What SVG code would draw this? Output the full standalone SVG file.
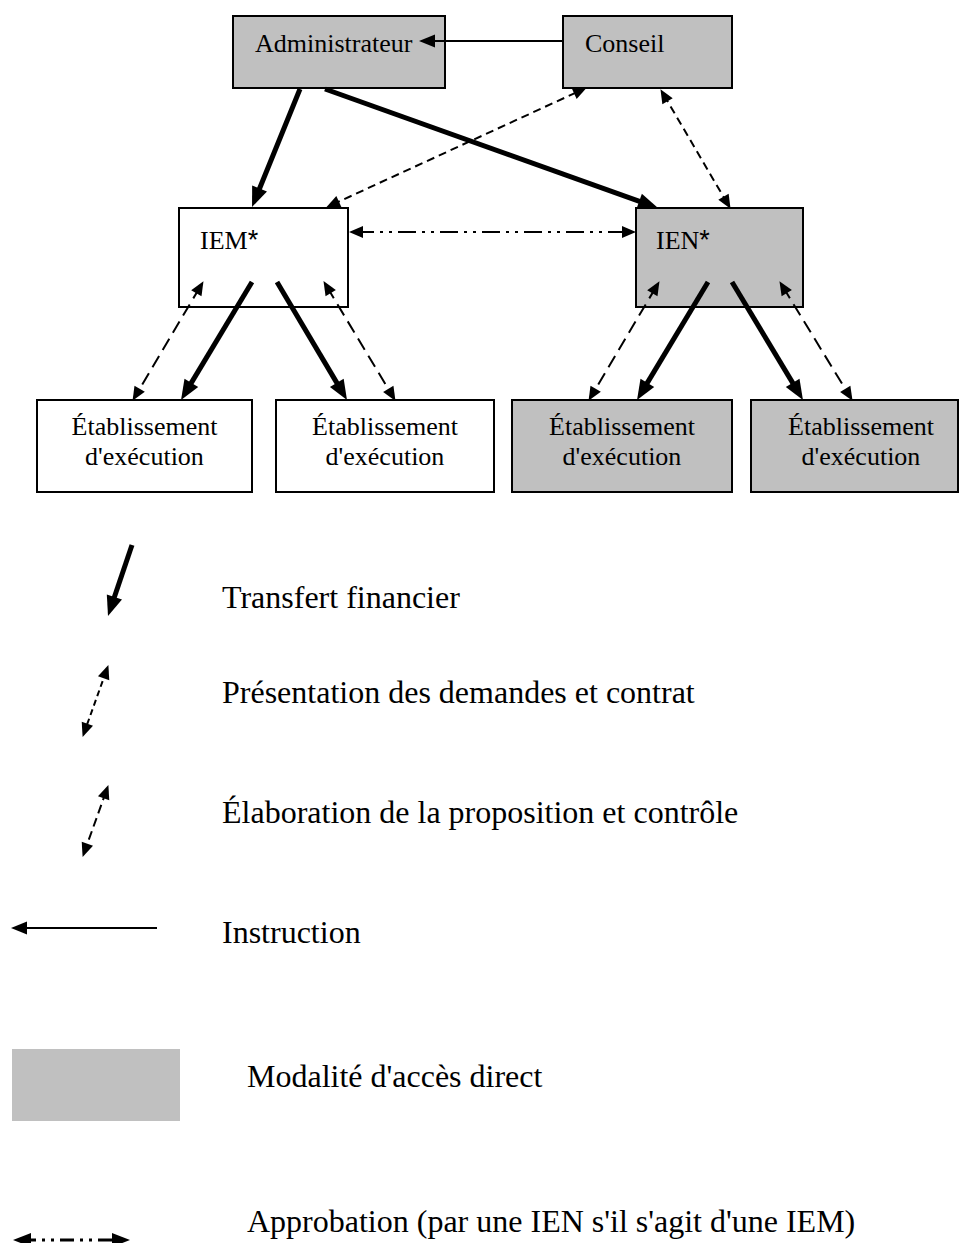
<svg xmlns="http://www.w3.org/2000/svg" width="959" height="1243" viewBox="0 0 959 1243">
<style>
.box{stroke:#000;stroke-width:2}
.gray{fill:#c0c0c0}
.white{fill:#fff}
.nt{font-size:26px;fill:#000}
.lt{font-size:32px;fill:#000}
.thick{stroke:#000;stroke-width:5;fill:none;marker-end:url(#hThick)}
.thin{stroke:#000;stroke-width:2;fill:none;marker-end:url(#hThin)}
.dshort{stroke:#000;stroke-width:2;fill:none;stroke-dasharray:8 5;marker-start:url(#hDash);marker-end:url(#hDash)}
.dlong{stroke:#000;stroke-width:2;fill:none;stroke-dasharray:13 7;marker-start:url(#hDash);marker-end:url(#hDash)}
.ddot{stroke:#000;stroke-width:2;fill:none;stroke-dasharray:18 6 3 6 3 6;marker-start:url(#hDash);marker-end:url(#hDash)}
</style>
<defs>
<marker id="hThick" markerUnits="userSpaceOnUse" markerWidth="20" markerHeight="16" refX="10" refY="8" orient="auto" overflow="visible">
<path d="M0,0 L20,8 L0,16 z" fill="#000"/>
</marker>
<marker id="hDash" markerUnits="userSpaceOnUse" markerWidth="14" markerHeight="12" refX="7" refY="6" orient="auto-start-reverse" overflow="visible">
<path d="M0,0 L14,6 L0,12 z" fill="#000"/>
</marker>
<marker id="hBig" markerUnits="userSpaceOnUse" markerWidth="18" markerHeight="14" refX="9" refY="7" orient="auto-start-reverse" overflow="visible">
<path d="M0,0 L18,7 L0,14 z" fill="#000"/>
</marker>
<marker id="hThin" markerUnits="userSpaceOnUse" markerWidth="16" markerHeight="13" refX="7" refY="6.5" orient="auto" overflow="visible">
<path d="M0,0 L16,6.5 L0,13 z" fill="#000"/>
</marker>
</defs>

<g font-family="Liberation Serif, Times New Roman, serif">
<g id="node-administrateur">
<rect class="box gray" x="233" y="16" width="212" height="72"/>
<text class="nt" font-family="Liberation Serif, serif" x="255" y="52">Administrateur</text>
</g>
<g id="node-conseil">
<rect class="box gray" x="563" y="16" width="169" height="72"/>
<text class="nt" font-family="Liberation Serif, serif" x="585" y="52">Conseil</text>
</g>
<g id="node-iem">
<rect class="box white" x="179" y="208" width="169" height="99"/>
<text class="nt" font-family="Liberation Serif, serif" x="200" y="249">IEM<tspan font-family="Liberation Sans, sans-serif" font-size="27">*</tspan></text>
</g>
<g id="node-ien">
<rect class="box gray" x="636" y="208" width="167" height="99"/>
<text class="nt" font-family="Liberation Serif, serif" x="656" y="249">IEN<tspan font-family="Liberation Sans, sans-serif" font-size="27">*</tspan></text>
</g>
<g id="node-etab1">
<rect class="box white" x="37" y="400" width="215" height="92"/>
<text class="nt" font-family="Liberation Serif, serif" x="144.5" y="435" text-anchor="middle">Établissement</text>
<text class="nt" font-family="Liberation Serif, serif" x="144.5" y="465" text-anchor="middle">d'exécution</text>
</g>
<g id="node-etab2">
<rect class="box white" x="276" y="400" width="218" height="92"/>
<text class="nt" font-family="Liberation Serif, serif" x="385" y="435" text-anchor="middle">Établissement</text>
<text class="nt" font-family="Liberation Serif, serif" x="385" y="465" text-anchor="middle">d'exécution</text>
</g>
<g id="node-etab3">
<rect class="box gray" x="512" y="400" width="220" height="92"/>
<text class="nt" font-family="Liberation Serif, serif" x="622" y="435" text-anchor="middle">Établissement</text>
<text class="nt" font-family="Liberation Serif, serif" x="622" y="465" text-anchor="middle">d'exécution</text>
</g>
<g id="node-etab4">
<rect class="box gray" x="751" y="400" width="207" height="92"/>
<text class="nt" font-family="Liberation Serif, serif" x="861" y="435" text-anchor="middle">Établissement</text>
<text class="nt" font-family="Liberation Serif, serif" x="861" y="465" text-anchor="middle">d'exécution</text>
</g>

<g id="connectors">
<line class="thin" x1="563" y1="41" x2="428" y2="41"/>
<line class="thick" x1="300" y1="89" x2="255.8" y2="197.7"/>
<line class="thick" x1="325" y1="89" x2="648.6" y2="204.6"/>
<line class="dshort" x1="332.5" y1="204.5" x2="580.5" y2="90.5"/>
<line class="dshort" x1="664" y1="95.2" x2="727" y2="202.8"/>
<line class="ddot" x1="356" y1="232" x2="629" y2="232"/>
<line class="thick" x1="252" y1="282" x2="186.2" y2="391.4"/>
<line class="thick" x1="277" y1="282" x2="341.9" y2="391.4"/>
<line class="thick" x1="708" y1="282" x2="642.2" y2="391.4"/>
<line class="thick" x1="732" y1="282" x2="797.8" y2="391.4"/>
<line class="dlong" x1="199.9" y1="287.2" x2="136.1" y2="394.8"/>
<line class="dlong" x1="327.1" y1="287.1" x2="391.9" y2="394.9"/>
<line class="dlong" x1="655.9" y1="287.2" x2="592.1" y2="394.8"/>
<line class="dlong" x1="783.1" y1="287.1" x2="848.9" y2="394.9"/>
</g>

<g id="legend">
<line class="thick" x1="132" y1="545" x2="111.2" y2="606.5"/>
<text class="lt" font-family="Liberation Serif, serif" x="222" y="608">Transfert financier</text>
<line stroke="#000" stroke-width="2" fill="none" stroke-dasharray="6 4" marker-start="url(#hDash)" marker-end="url(#hDash)" x1="106" y1="671.7" x2="85" y2="730.3"/>
<text class="lt" font-family="Liberation Serif, serif" x="222" y="703">Présentation des demandes et contrat</text>
<line stroke="#000" stroke-width="2" fill="none" stroke-dasharray="9 5" marker-start="url(#hDash)" marker-end="url(#hDash)" x1="106" y1="791.7" x2="85" y2="850.3"/>
<text class="lt" font-family="Liberation Serif, serif" x="222" y="823">Élaboration de la proposition et contrôle</text>
<line class="thin" x1="157" y1="928" x2="20" y2="928"/>
<text class="lt" font-family="Liberation Serif, serif" x="222" y="943">Instruction</text>
<rect class="gray" x="12" y="1049" width="168" height="72"/>
<text class="lt" font-family="Liberation Serif, serif" x="247" y="1087">Modalité d'accès direct</text>
<line stroke="#000" stroke-width="3" fill="none" stroke-dasharray="14 6 3 6 3 6" marker-start="url(#hBig)" marker-end="url(#hBig)" x1="22" y1="1240" x2="121" y2="1240"/>
<text class="lt" font-family="Liberation Serif, serif" x="247" y="1232">Approbation (par une IEN s'il s'agit d'une IEM)</text>
</g>
</g>
</svg>
